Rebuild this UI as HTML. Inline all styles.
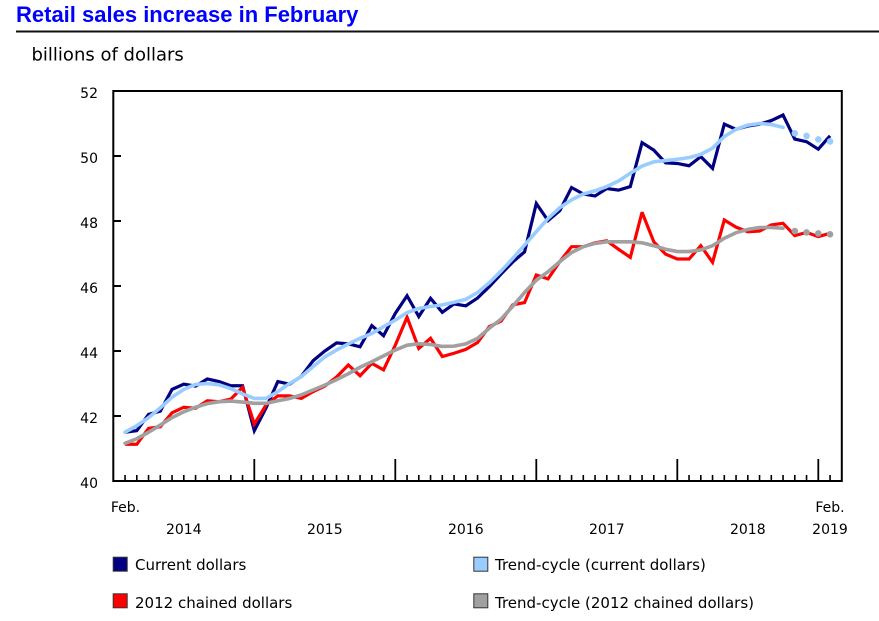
<!DOCTYPE html>
<html>
<head>
<meta charset="utf-8">
<style>
  html,body{margin:0;padding:0;background:#fff;}
  body{width:879px;height:621px;overflow:hidden;}
  svg{display:block;}
  .t{font-family:"DejaVu Sans","Liberation Sans",sans-serif;fill:#000;}
</style>
</head>
<body>
<svg width="879" height="621" viewBox="0 0 879 621" xmlns="http://www.w3.org/2000/svg">
  <!-- Title -->
  <text x="16" y="22" style="font-family:'Liberation Sans',Arial,sans-serif;font-weight:bold;font-size:22px;fill:#0000FF;">Retail sales increase in February</text>
  <line x1="16" y1="31.5" x2="879" y2="31.5" stroke="#111" stroke-width="2"/>
  <text class="t" x="31.5" y="60.5" font-size="18">billions of dollars</text>

  <!-- Y labels -->
  <g class="t" font-size="14" text-anchor="end">
    <text x="98" y="98">52</text>
    <text x="98" y="163">50</text>
    <text x="98" y="228">48</text>
    <text x="98" y="293">46</text>
    <text x="98" y="358">44</text>
    <text x="98" y="423">42</text>
    <text x="98" y="488">40</text>
  </g>
  <!-- Y ticks -->
  <g stroke="#000" stroke-width="2">
    <line x1="113" y1="156" x2="121" y2="156"/>
    <line x1="113" y1="221" x2="121" y2="221"/>
    <line x1="113" y1="286" x2="121" y2="286"/>
    <line x1="113" y1="351" x2="121" y2="351"/>
    <line x1="113" y1="416" x2="121" y2="416"/>
  </g>

  <!-- X ticks -->
  <g stroke="#000" stroke-width="1.6" id="xt">
    <path d="M125.05 481V475 M136.8 481V475 M148.55 481V475 M160.3 481V475 M172.05 481V475 M183.8 481V475 M195.55 481V475 M207.3 481V475 M219.05 481V475 M230.8 481V475 M242.55 481V475
             M266.05 481V475 M277.8 481V475 M289.55 481V475 M301.3 481V475 M313.05 481V475 M324.8 481V475 M336.55 481V475 M348.3 481V475 M360.05 481V475 M371.8 481V475 M383.55 481V475
             M407.05 481V475 M418.8 481V475 M430.55 481V475 M442.3 481V475 M454.05 481V475 M465.8 481V475 M477.55 481V475 M489.3 481V475 M501.05 481V475 M512.8 481V475 M524.55 481V475
             M548.05 481V475 M559.8 481V475 M571.55 481V475 M583.3 481V475 M595.05 481V475 M606.8 481V475 M618.55 481V475 M630.3 481V475 M642.05 481V475 M653.8 481V475 M665.55 481V475
             M689.05 481V475 M700.8 481V475 M712.55 481V475 M724.3 481V475 M736.05 481V475 M747.8 481V475 M759.55 481V475 M771.3 481V475 M783.05 481V475 M794.8 481V475 M806.55 481V475
             M830.05 481V475"/>
    <path d="M254.3 481V459 M395.3 481V459 M536.3 481V459 M677.3 481V459 M818.3 481V459" stroke-width="1.8"/>
  </g>

  <!-- X labels -->
  <g class="t" font-size="14" text-anchor="middle">
    <text x="125.5" y="512">Feb.</text>
    <text x="830" y="512">Feb.</text>
    <text x="183.8" y="534">2014</text>
    <text x="324.8" y="534">2015</text>
    <text x="465.8" y="534">2016</text>
    <text x="606.8" y="534">2017</text>
    <text x="747.8" y="534">2018</text>
    <text x="830" y="534">2019</text>
  </g>

  <!-- Series -->
  <g transform="matrix(11.75 0 0 -32.5 125.05 1781)" fill="none">
    <polyline vector-effect="non-scaling-stroke" stroke="#000080" stroke-width="3.2" stroke-linejoin="miter" stroke-miterlimit="3"
      points="0,41.5 1,41.55 2,42.05 3,42.15 4,42.82 5,42.98 6,42.92 7,43.14 8,43.06 9,42.93 10,42.93 11,41.55 12,42.25 13,43.06 14,42.98 15,43.22 16,43.7 17,44.0 18,44.25 19,44.22 20,44.13 21,44.78 22,44.47 23,45.16 24,45.7 25,45.06 26,45.62 27,45.19 28,45.45 29,45.39 30,45.63 31,45.98 32,46.37 33,46.74 34,47.05 35,48.54 36,48.01 37,48.32 38,49.03 39,48.83 40,48.77 41,49.0 42,48.95 43,49.06 44,50.41 45,50.18 46,49.79 47,49.77 48,49.7 49,49.98 50,49.62 51,50.98 52,50.82 53,50.92 54,50.98 55,51.09 56,51.26 57,50.52 58,50.44 59,50.21 60,50.62"/>
    <polyline vector-effect="non-scaling-stroke" stroke="#FF0000" stroke-width="3.2" stroke-linejoin="miter" stroke-miterlimit="3"
      points="0,41.13 1,41.13 2,41.62 3,41.67 4,42.1 5,42.27 6,42.24 7,42.47 8,42.44 9,42.52 10,42.88 11,41.75 12,42.34 13,42.62 14,42.62 15,42.54 16,42.75 17,42.92 18,43.2 19,43.57 20,43.24 21,43.62 22,43.42 23,44.18 24,45.04 25,44.08 26,44.39 27,43.83 28,43.93 29,44.05 30,44.26 31,44.75 32,44.92 33,45.42 34,45.49 35,46.34 36,46.22 37,46.75 38,47.21 39,47.21 40,47.33 41,47.39 42,47.13 43,46.88 44,48.27 45,47.36 46,46.98 47,46.83 48,46.83 49,47.24 50,46.73 51,48.03 52,47.81 53,47.67 54,47.69 55,47.88 56,47.93 57,47.55 58,47.65 59,47.52 60,47.62"/>
    <polyline vector-effect="non-scaling-stroke" stroke="#99CCFF" stroke-width="3.6" stroke-linejoin="round" stroke-linecap="round"
      points="0,41.5 1,41.7 2,41.95 3,42.25 4,42.58 5,42.82 6,42.97 7,43.0 8,42.96 9,42.84 10,42.68 11,42.54 12,42.54 13,42.75 14,43.0 15,43.21 16,43.52 17,43.82 18,44.03 19,44.22 20,44.39 21,44.54 22,44.75 23,44.95 24,45.18 25,45.31 26,45.37 27,45.42 28,45.5 29,45.59 30,45.8 31,46.1 32,46.46 33,46.85 34,47.26 35,47.67 36,48.08 37,48.41 38,48.65 39,48.83 40,48.93 41,49.06 42,49.23 43,49.47 44,49.69 45,49.82 46,49.86 47,49.9 48,49.95 49,50.05 50,50.24 51,50.6 52,50.82 53,50.95 54,51.0 55,50.97 56,50.88"/>
    <polyline vector-effect="non-scaling-stroke" stroke="#A0A0A0" stroke-width="3.6" stroke-linejoin="round" stroke-linecap="round"
      points="0,41.16 1,41.3 2,41.5 3,41.72 4,41.95 5,42.13 6,42.27 7,42.38 8,42.44 9,42.46 10,42.43 11,42.39 12,42.39 13,42.47 14,42.54 15,42.65 16,42.8 17,42.95 18,43.12 19,43.3 20,43.5 21,43.67 22,43.85 23,44.03 24,44.18 25,44.22 26,44.2 27,44.14 28,44.15 29,44.22 30,44.39 31,44.7 32,44.98 33,45.38 34,45.8 35,46.18 36,46.44 37,46.75 38,47.03 39,47.21 40,47.31 41,47.36 42,47.36 43,47.36 44,47.33 45,47.24 46,47.13 47,47.06 48,47.06 49,47.11 50,47.24 51,47.47 52,47.64 53,47.74 54,47.8 55,47.8 56,47.78"/>
  </g>
  <!-- Dots (projected trend) -->
  <g fill="#99CCFF">
    <circle cx="794.8" cy="133.3" r="3.3"/>
    <circle cx="806.55" cy="135.9" r="3.3"/>
    <circle cx="818.3" cy="139.4" r="3.3"/>
    <circle cx="830.05" cy="141.4" r="3.3"/>
  </g>
  <g fill="#A0A0A0">
    <circle cx="794.8" cy="231.1" r="3.3"/>
    <circle cx="806.55" cy="232.4" r="3.3"/>
    <circle cx="818.3" cy="233.4" r="3.3"/>
    <circle cx="830.05" cy="234.3" r="3.3"/>
  </g>

  <!-- Plot frame -->
  <rect x="113.3" y="91" width="728.5" height="390" fill="none" stroke="#000" stroke-width="2"/>

  <!-- Legend -->
  <rect x="113.2" y="557.2" width="14" height="14" fill="#000080" stroke="#333" stroke-width="1"/>
  <text class="t" x="135" y="570" font-size="15">Current dollars</text>
  <rect x="113.2" y="593.8" width="14" height="14" fill="#FF0000" stroke="#333" stroke-width="1"/>
  <text class="t" x="135" y="608" font-size="15">2012 chained dollars</text>
  <rect x="473.8" y="557.2" width="14" height="14" fill="#99CCFF" stroke="#333" stroke-width="1"/>
  <text class="t" x="495" y="570" font-size="15">Trend-cycle (current dollars)</text>
  <rect x="473.8" y="593.8" width="14" height="14" fill="#A0A0A0" stroke="#333" stroke-width="1"/>
  <text class="t" x="495" y="608" font-size="15">Trend-cycle (2012 chained dollars)</text>
</svg>
</body>
</html>
